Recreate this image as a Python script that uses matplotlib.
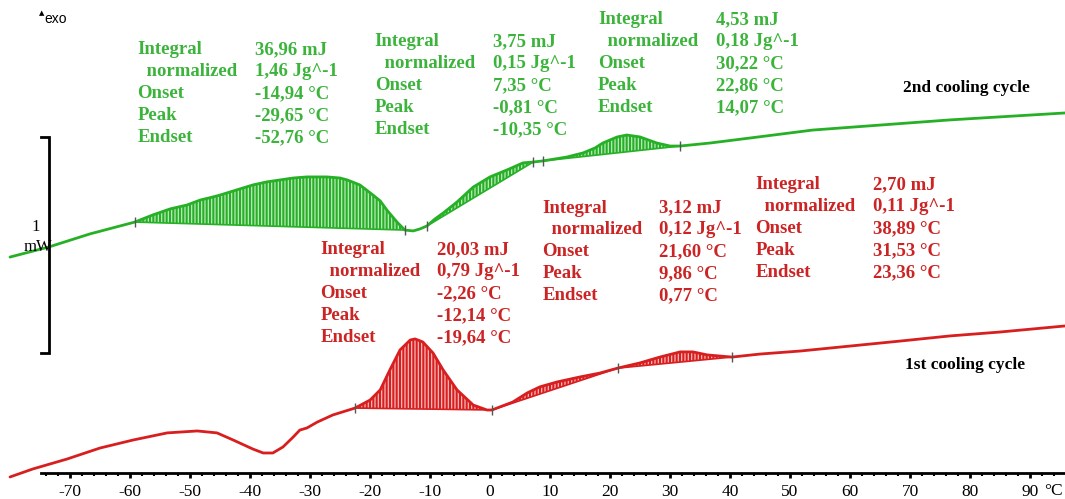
import numpy as np
import matplotlib
matplotlib.use("Agg")
import matplotlib.pyplot as plt
from matplotlib.ticker import FixedLocator

# ---------------- data (temperature in °C, heat flow in mW, arbitrary offset) ----------------
green_T = [-80.0, -73.5, -66.7, -59.2, -56.2, -53.3, -50.5, -48.3, -46.2, -45.0, -42.2, -39.5,
           -37.2, -35.0, -32.8, -30.5, -27.2, -25.0, -23.8, -21.7, -19.5, -18.3, -17.2, -15.5,
           -14.2, -12.8, -11.7, -10.5, -9.2, -7.8, -5.5, -2.8, 0.0, 2.8, 5.5, 7.2, 8.8, 12.8,
           15.5, 17.5, 18.8, 21.2, 22.8, 25.0, 27.8, 30.0, 31.7, 36.7, 43.3, 53.8, 65.0, 76.7,
           85.0, 95.8]
green_mW = [1.120, 1.167, 1.227, 1.282, 1.315, 1.343, 1.361, 1.384, 1.398, 1.407, 1.431, 1.454,
            1.468, 1.477, 1.486, 1.491, 1.491, 1.486, 1.477, 1.454, 1.407, 1.380, 1.338, 1.282,
            1.245, 1.241, 1.250, 1.264, 1.296, 1.324, 1.375, 1.444, 1.491, 1.523, 1.556, 1.560,
            1.565, 1.583, 1.602, 1.625, 1.648, 1.676, 1.685, 1.676, 1.648, 1.634, 1.634, 1.648,
            1.671, 1.708, 1.731, 1.755, 1.769, 1.787]

red_T = [-80.0, -76.2, -70.5, -65.0, -59.5, -53.8, -48.8, -45.5, -42.8, -39.5, -37.8, -36.2,
         -34.5, -32.8, -31.7, -30.5, -28.8, -26.2, -22.5, -20.0, -18.3, -16.7, -15.0, -13.3,
         -12.5, -11.2, -9.5, -7.8, -5.5, -2.8, -0.5, 0.3, 3.8, 6.2, 8.3, 11.2, 15.0, 18.3,
         21.3, 25.0, 28.3, 31.7, 33.8, 36.2, 40.3, 45.0, 51.7, 60.0, 68.3, 76.7, 85.0, 95.8]
red_mW = [0.102, 0.139, 0.185, 0.236, 0.273, 0.306, 0.315, 0.306, 0.273, 0.231, 0.213, 0.213,
          0.241, 0.287, 0.319, 0.329, 0.356, 0.389, 0.421, 0.458, 0.505, 0.597, 0.690, 0.736,
          0.741, 0.727, 0.676, 0.597, 0.505, 0.435, 0.412, 0.412, 0.449, 0.491, 0.519, 0.542,
          0.565, 0.583, 0.606, 0.630, 0.657, 0.681, 0.681, 0.667, 0.657, 0.671, 0.685, 0.708,
          0.731, 0.755, 0.773, 0.801]

# integration limits (°C)
green_limits = [(-59.2, -14.2), (-10.5, 7.2), (8.8, 31.7)]
red_limits = [(-22.5, 0.3), (0.3, 21.3), (21.3, 40.3)]

row_labels = ["Integral", "  normalized", "Onset", "Peak", "Endset"]
green_values = [["36,96 mJ", "1,46 Jg^-1", "-14,94 °C", "-29,65 °C", "-52,76 °C"],
                ["3,75 mJ", "0,15 Jg^-1", "7,35 °C", "-0,81 °C", "-10,35 °C"],
                ["4,53 mJ", "0,18 Jg^-1", "30,22 °C", "22,86 °C", "14,07 °C"]]
red_values = [["20,03 mJ", "0,79 Jg^-1", "-2,26 °C", "-12,14 °C", "-19,64 °C"],
              ["3,12 mJ", "0,12 Jg^-1", "21,60 °C", "9,86 °C", "0,77 °C"],
              ["2,70 mJ", "0,11 Jg^-1", "38,89 °C", "31,53 °C", "23,36 °C"]]

x_ticks = [-70, -60, -50, -40, -30, -20, -10, 0, 10, 20, 30, 40, 50, 60, 70, 80, 90]
x_minor_ticks = list(range(-74, 96, 2))

# ---------------- style ----------------
GREEN = "#26b026"
GREEN_TXT = "#3cb43c"
RED = "#d81e1e"
RED_TXT = "#cc2424"
SERIF = ["Liberation Serif", "DejaVu Serif"]

plt.rcParams["hatch.linewidth"] = 0.9

fig = plt.figure(figsize=(10.65, 4.99), dpi=100)
ax = fig.add_axes([0, 0, 1, 1])
ax.set_xlim(-81.67, 95.83)
ax.set_ylim(0.0, 2.31)

for s in ["top", "left", "right"]:
    ax.spines[s].set_visible(False)
ax.spines["bottom"].set_position(("data", 0.120))
ax.spines["bottom"].set_bounds(-74.8, 95.83)
ax.spines["bottom"].set_linewidth(2.0)
ax.yaxis.set_visible(False)

ax.set_xticks(x_ticks)
ax.set_xticklabels([str(t) for t in x_ticks], fontfamily=SERIF, fontsize=12.5)
ax.xaxis.set_minor_locator(FixedLocator(x_minor_ticks))
ax.tick_params(axis="x", which="major", direction="out", length=3.5, width=2.0, pad=4.5)
ax.tick_params(axis="x", which="minor", direction="out", length=2.5, width=1.5)
ax.text(92.4, 0.036, "°C", fontfamily=SERIF, fontsize=12.5, ha="left", va="center")


def draw_curve(T, Y, limits, color):
    T = np.asarray(T)
    Y = np.asarray(Y)
    for a, b in limits:
        m = (T >= a - 1e-9) & (T <= b + 1e-9)
        ax.fill(T[m], Y[m], facecolor=color, edgecolor=(1, 1, 1, 0.7), lw=0,
                hatch="|||||", zorder=2)
        ax.plot([T[m][0], T[m][-1]], [Y[m][0], Y[m][-1]], color=color, lw=1.2, zorder=2)
    ax.plot(T, Y, color=color, lw=2.0, zorder=3, solid_capstyle="round",
            solid_joinstyle="round")
    lim_pts = sorted(set([a for a, b in limits] + [b for a, b in limits]))
    ax.plot(lim_pts, np.interp(lim_pts, T, Y), ls="none", marker="|", ms=7,
            mew=1.0, color="#555555", zorder=4)


draw_curve(green_T, green_mW, green_limits, GREEN)
draw_curve(red_T, red_mW, red_limits, RED)


def block(xl, xv, y0, values, color):
    for i, (lab, val) in enumerate(zip(row_labels, values)):
        ax.annotate(lab, xy=(xl, y0), xytext=(0, -15.8 * i), textcoords="offset points",
                    fontfamily=SERIF, fontweight="bold", fontsize=13.5, color=color,
                    ha="left", va="center")
        ax.annotate(val, xy=(xv, y0), xytext=(0, -15.8 * i), textcoords="offset points",
                    fontfamily=SERIF, fontweight="bold", fontsize=13.5, color=color,
                    ha="left", va="center")


block(-58.8, -39.2, 2.079, green_values[0], GREEN_TXT)
block(-19.2, 0.5, 2.116, green_values[1], GREEN_TXT)
block(18.0, 37.7, 2.218, green_values[2], GREEN_TXT)
block(-28.3, -8.8, 1.153, red_values[0], RED_TXT)
block(8.7, 28.2, 1.347, red_values[1], RED_TXT)
block(44.2, 63.8, 1.454, red_values[2], RED_TXT)

ax.text(90.0, 1.903, "2nd cooling cycle", fontfamily=SERIF, fontweight="bold",
        fontsize=12.5, ha="right", va="center", color="black")
ax.text(89.2, 0.620, "1st cooling cycle", fontfamily=SERIF, fontweight="bold",
        fontsize=12.5, ha="right", va="center", color="black")

# exo marker
ax.text(-75.1, 2.25, "▲", fontsize=5, ha="left", va="center", color="black",
        family="DejaVu Sans")
ax.text(-74.3, 2.22, "exo", fontsize=10, ha="left", va="center", color="black",
        family=["Liberation Sans", "DejaVu Sans"])

# 1 mW scale bar
bar_x = -73.5
bar_top, bar_bot = 1.676, 0.676
ax.plot([bar_x - 1.4, bar_x, bar_x, bar_x - 1.4], [bar_top, bar_top, bar_bot, bar_bot],
        color="black", lw=2.0, zorder=5, solid_joinstyle="miter")
ax.text(-75.0, 1.258, "1", fontfamily=SERIF, fontsize=12, ha="right", va="center")
ax.text(-73.0, 1.168, "mW", fontfamily=SERIF, fontsize=12, ha="right", va="center")

fig.savefig("out.png", dpi=100)
